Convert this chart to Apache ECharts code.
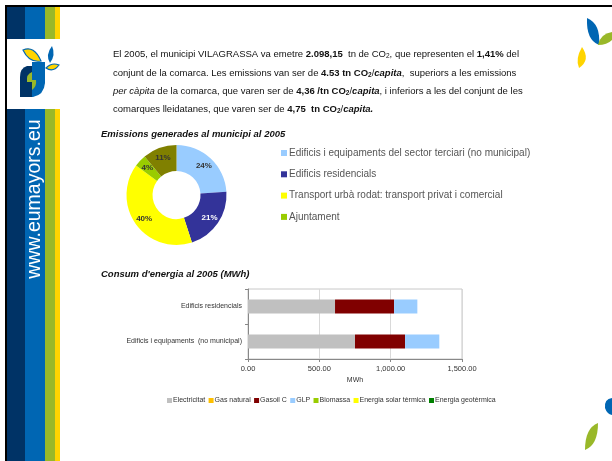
<!DOCTYPE html>
<html>
<head>
<meta charset="utf-8">
<script src="https://cdn.jsdelivr.net/npm/echarts@6/dist/echarts.min.js"></script>
<style>
html,body{margin:0;padding:0;background:#fff;}
#c{width:612px;height:461px;}
</style>
</head>
<body>
<div id="c"></div>
<script>
// ---- Data ----
const pieNames = [
  'Edificis i equipaments del sector terciari (no municipal)',
  'Edificis residencials',
  'Transport urbà rodat: transport privat i comercial',
  'Ajuntament',
  'Altres'
];
const pieValues = [24, 21, 40, 4, 11];
const pieLegendNames = pieNames.slice(0, 4);

const barCategories = ['Edificis i equipaments  (no municipal)', 'Edificis residencials'];
const barSeriesNames = ['Electricitat', 'Gas natural', 'Gasoil C', 'GLP', 'Biomassa', 'Energia solar tèrmica', 'Energia geotèrmica'];
const electricitat = [750, 610];
const gasNatural = [0, 0];
const gasoilC = [351, 414];
const glp = [240, 163];
const biomassa = [0, 0];
const solarTermica = [0, 0];
const geotermica = [0, 0];

const pieTitle = 'Emissions generades al municipi al 2005';
const barTitle = "Consum d'energia al 2005 (MWh)";
const siteText = 'www.eumayors.eu';

// ---- Styles ----
const FONT = 'Liberation Sans, Arial, sans-serif';
const pieColors = ['#99CCFF', '#333399', '#FFFF00', '#99CC00', '#808000'];
const pieLabelColors = ['#333', '#fff', '#333', '#333', '#333'];
const barColors = ['#C0C0C0', '#FFC000', '#800000', '#99CCFF', '#99CC00', '#FFFF00', '#008000'];
const barData = [electricitat, gasNatural, gasoilC, glp, biomassa, solarTermica, geotermica];

function fmt(v) {
  return v.toLocaleString('en-US', {minimumFractionDigits: 2, maximumFractionDigits: 2});
}

// decorative shapes (logo leaves)
const decoPaths = [
  ['M32 66 L27 66 Q20 68 20 77 L20 97 L32 97 Z', '#003366', null],
  ['M32 62 L45 62 L45 83 Q44 95 33 97 L32 97 Z', '#0066B3', null],
  ['M32 72 Q26 74 27 82 L32 82 Z', '#99B829', null],
  ['M32 80 L36 80 Q37 86 32 90 Z', '#99B829', null],
  ['M23 50 Q34 45 41 61 Q29 63 23 50 Z', '#FFD400', '#0066B3'],
  ['M52 46 Q45 55 50 63 Q56 55 52 46 Z', '#0066B3', null],
  ['M46 68 Q52 62 59 65 Q53 73 46 68 Z', '#FFD400', '#0066B3'],
  ['M587 18 Q601 24 599 45 Q586 40 587 18 Z', '#0066B3', null],
  ['M598 45 Q600 34 612 32 L612 40 Q607 45 598 45 Z', '#99B829', null],
  ['M582 47 Q575 59 579 68 Q591 60 582 47 Z', '#FFD400', null],
  ['M612 398 Q604 399 605 408 Q607 414 612 415 Z', '#0066B3', null],
  ['M598 423 Q585 428 585 450 Q598 445 598 423 Z', '#99B829', null]
];

const rich = {
  b: {fontWeight: 'bold', fontSize: 9.5, fontFamily: FONT, color: '#111'},
  bi: {fontWeight: 'bold', fontStyle: 'italic', fontSize: 9.5, fontFamily: FONT, color: '#111'},
  i: {fontStyle: 'italic', fontSize: 9.5, fontFamily: FONT, color: '#111'},
  s: {fontSize: 6.5, fontFamily: FONT, color: '#111', verticalAlign: 'bottom', lineHeight: 9},
  bs: {fontSize: 6.5, fontWeight: 'bold', fontFamily: FONT, color: '#111', verticalAlign: 'bottom', lineHeight: 9}
};
const paraLines = [
  'El 2005, el municipi VILAGRASSA va emetre {b|2.098,15}  tn de CO{s|2}, que representen el {b|1,41%} del',
  'conjunt de la comarca. Les emissions van ser de {b|4.53 tn CO}{bs|2}/{bi|capita},  superiors a les emissions',
  '{i|per càpita} de la comarca, que varen ser de {b|4,36 /tn CO}{bs|2}/{bi|capita}, i inferiors a les del conjunt de les',
  'comarques lleidatanes, que varen ser de {b|4,75  tn CO}{bs|2}/{bi|capita.}'
];
const paraY = [54, 73, 91, 109];

const graphics = [];
// borders
graphics.push({type: 'rect', shape: {x: 5, y: 5, width: 607, height: 2}, style: {fill: '#000'}});
graphics.push({type: 'rect', shape: {x: 5, y: 5, width: 2, height: 456}, style: {fill: '#000'}});
// stripes
const stripes = [[7, 18, '#003366'], [25, 20, '#0066B3'], [45, 10, '#99B829'], [55, 5, '#FFD400']];
stripes.forEach(s => graphics.push({type: 'rect', shape: {x: s[0], y: 7, width: s[1], height: 454}, style: {fill: s[2]}}));
// logo box
graphics.push({type: 'rect', shape: {x: 7, y: 39, width: 53, height: 70}, style: {fill: '#fff'}});
decoPaths.forEach((p, k) => {
  const name = 'decoShape' + k;
  echarts.graphic.registerShape(name, echarts.graphic.extendPath(p[0]));
  graphics.push({type: name, style: p[2] ? {fill: p[1], stroke: p[2], lineWidth: 1.2} : {fill: p[1]}});
});
// vertical site text
graphics.push({
  type: 'text', x: 35, y: 199, rotation: Math.PI / 2,
  style: {text: siteText, fill: '#fff', font: '19.5px ' + FONT, align: 'center', verticalAlign: 'middle'}
});
// paragraph
paraLines.forEach((t, k) => graphics.push({
  type: 'text', x: 113, y: paraY[k],
  style: {text: t, rich: rich, fill: '#111', font: '9.5px ' + FONT, verticalAlign: 'middle', lineHeight: 12}
}));
// titles
graphics.push({type: 'text', x: 101, y: 134, style: {text: pieTitle, fill: '#111', font: 'italic bold 9.5px ' + FONT, verticalAlign: 'middle'}});
graphics.push({type: 'text', x: 101, y: 274, style: {text: barTitle, fill: '#111', font: 'italic bold 9.5px ' + FONT, verticalAlign: 'middle'}});

const series = [{
  type: 'pie',
  center: [176.5, 195],
  radius: [24, 50],
  startAngle: 90,
  clockwise: true,
  silent: true,
  label: {show: true, position: 'inside', formatter: '{c}%', fontSize: 8, fontWeight: 'bold', color: '#333', fontFamily: FONT},
  labelLine: {show: false},
  itemStyle: {borderWidth: 0},
  data: pieNames.map((n, k) => ({name: n, value: pieValues[k], itemStyle: {color: pieColors[k]}, label: {color: pieLabelColors[k]}}))
}];
barSeriesNames.forEach((n, k) => series.push({
  type: 'bar', name: n, stack: 'total', barWidth: 14,
  xAxisIndex: 0, yAxisIndex: 0,
  itemStyle: {color: barColors[k]},
  data: barData[k]
}));

const option = {
  animation: false,
  backgroundColor: '#fff',
  color: barColors,
  legend: [{
    data: pieLegendNames.map((n, k) => ({name: n, itemStyle: {color: pieColors[k]}})),
    orient: 'vertical', left: 276, top: 142, itemGap: 9.3,
    itemWidth: 6, itemHeight: 6, icon: 'rect',
    textStyle: {fontSize: 10, color: '#555', fontFamily: FONT, padding: [0, 0, 0, -3], lineHeight: 12}
  }, {
    data: barSeriesNames,
    orient: 'horizontal', left: 162, top: 392, itemGap: 3.3,
    itemWidth: 5, itemHeight: 5, icon: 'rect',
    textStyle: {fontSize: 7, color: '#333', fontFamily: FONT, padding: [0, 0, 0, -4]}
  }],
  grid: {left: 248, right: 150, top: 289, bottom: 102, show: true, borderColor: '#c8c8c8', borderWidth: 1},
  xAxis: {
    type: 'value', min: 0, max: 1500, interval: 500,
    name: 'MWh', nameLocation: 'middle', nameGap: 18,
    nameTextStyle: {fontSize: 7, color: '#333', fontFamily: FONT},
    axisLine: {show: true, lineStyle: {color: '#888'}},
    axisTick: {show: true, length: 3, lineStyle: {color: '#888'}},
    axisLabel: {fontSize: 7.5, color: '#333', fontFamily: FONT, margin: 6, formatter: v => fmt(v)},
    splitLine: {show: true, lineStyle: {color: '#d9d9d9'}}
  },
  yAxis: {
    type: 'category', data: barCategories,
    axisLine: {show: true, lineStyle: {color: '#888'}},
    axisTick: {show: true, length: 3, lineStyle: {color: '#888'}},
    axisLabel: {fontSize: 7, color: '#333', fontFamily: FONT, margin: 6}
  },
  graphic: graphics,
  series: series
};

const chart = echarts.init(document.getElementById('c'), null, {renderer: 'canvas'});
chart.setOption(option);
</script>
</body>
</html>
